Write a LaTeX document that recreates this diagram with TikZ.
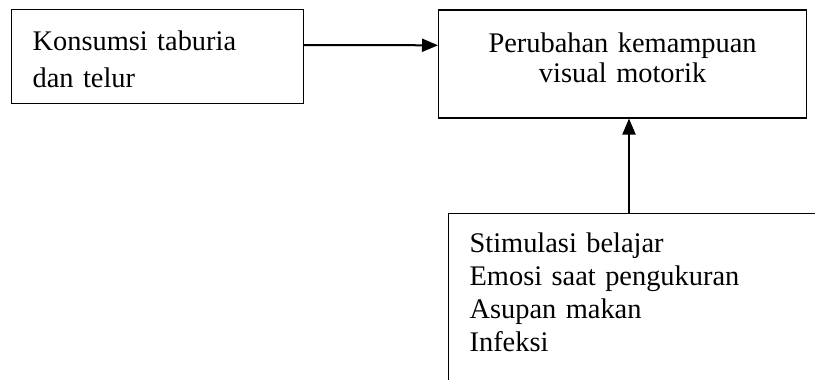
\documentclass[tikz,border=0pt]{standalone}
\usepackage{fontspec}
\setmainfont{Liberation Serif}
\usetikzlibrary{arrows.meta}

\begin{document}
\begin{tikzpicture}[x=0.5pt,y=-0.5pt,
    box/.style={draw, line width=0.6pt, rectangle, anchor=north west,
        inner ysep=0pt, inner xsep=10.5pt},
    link/.style={line width=1pt, -{Triangle[length=8pt,width=6.5pt]}}]

% Frame
\useasboundingbox (0,0) rectangle (815,380);
\clip (0,0) rectangle (815,380);

% Intake
\node[box, minimum width=146pt, minimum height=47pt, text width=125pt,
    align=left, text height=20.5pt, text depth=26.5pt,
    font=\fontsize{14.2}{18.5}\selectfont] (intake) at (11,9)
    {Konsumsi taburia\\dan telur};

% Outcome
\node[box, minimum width=184pt, minimum height=54pt, text width=163pt,
    align=center, text height=21.2pt, text depth=32.8pt,
    font=\fontsize{14.2}{15}\selectfont] (outcome) at (438,9.3)
    {Perubahan kemampuan\\visual motorik};

% Other factors (box runs past the page edge)
\node[box, minimum width=191pt, minimum height=91pt, text width=170pt,
    align=left, text height=19.4pt, text depth=71.6pt,
    font=\fontsize{14.2}{16.5}\selectfont] (factors) at (448,213)
    {Stimulasi belajar\\Emosi saat pengukuran\\Asupan makan\\Infeksi};

% Arrows
\draw[link] ([yshift=-18pt]intake.north east) -- ([yshift=-18pt]outcome.north west);
\coordinate (tail) at ([xshift=90.5pt]factors.north west);
\draw[link] (tail) -- (tail |- outcome.south);

\end{tikzpicture}
\end{document}
